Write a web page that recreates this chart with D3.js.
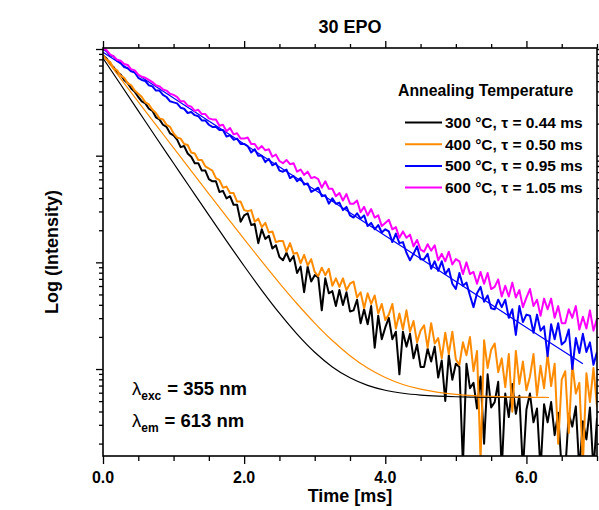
<!DOCTYPE html>
<html>
<head>
<meta charset="utf-8">
<script src="https://d3js.org/d3.v7.min.js"></script>
<style>
  body { margin: 0; background: #fff; }
  text { font-family: Arial, "Liberation Sans", sans-serif; font-weight: bold; fill: #000; }
  .tick line { stroke: #000; stroke-width: 1.3; }
</style>
</head>
<body>
<div id="chart"></div>
<script>
// recorded decays, log10 of normalised intensity, one value every 0.05 ms from 0 to 7 ms
var dt = 0.05;
var black300 = [-0.06,
  -0.09,-0.14,-0.17,-0.22,-0.24,-0.29,-0.32,-0.37,-0.40,-0.45,
  -0.49,-0.51,-0.56,-0.58,-0.64,-0.66,-0.71,-0.73,-0.79,-0.81,
  -0.85,-0.92,-0.91,-0.98,-1.01,-1.07,-1.07,-1.14,-1.14,-1.22,
  -1.24,-1.24,-1.34,-1.33,-1.40,-1.38,-1.46,-1.46,-1.62,-1.56,
  -1.54,-1.65,-1.64,-1.82,-1.69,-1.78,-1.75,-1.87,-1.84,-1.95,
  -1.98,-1.91,-1.99,-1.94,-2.10,-2.04,-2.28,-2.04,-2.18,-2.12,
  -2.14,-2.45,-2.15,-2.29,-2.27,-2.41,-2.26,-2.40,-2.28,-2.46,
  -2.45,-2.35,-2.57,-2.44,-2.58,-2.41,-2.80,-2.50,-2.72,-2.61,
  -2.52,-2.72,-2.65,-3.05,-2.65,-2.79,-2.67,-2.90,-2.77,-2.98,
  -2.98,-2.81,-2.93,-2.79,-3.08,-2.92,-3.30,-2.87,-3.10,-2.95,
  -2.98,-3.90,-2.95,-3.18,-3.13,-3.37,-3.07,-3.70,-3.05,-3.36,
  -3.31,-3.12,-3.95,-3.23,-3.45,-3.14,-3.42,-3.25,-3.95,-3.38,
  -3.23,-3.50,-3.37,-3.95,-3.33,-3.50,-3.31,-3.62,-3.41,-3.95,
  -3.95,-3.42,-3.54,-3.35,-3.95,-3.49,-3.66,-3.36,-3.95,-3.46
];
var orange400 = [-0.06,
  -0.10,-0.12,-0.18,-0.20,-0.25,-0.27,-0.32,-0.34,-0.39,-0.42,
  -0.45,-0.50,-0.52,-0.57,-0.60,-0.65,-0.66,-0.71,-0.73,-0.79,
  -0.83,-0.84,-0.89,-0.90,-0.97,-0.98,-1.04,-1.04,-1.10,-1.12,
  -1.14,-1.21,-1.23,-1.30,-1.29,-1.35,-1.35,-1.43,-1.43,-1.51,
  -1.52,-1.51,-1.62,-1.59,-1.67,-1.63,-1.72,-1.71,-1.81,-1.80,
  -1.80,-1.90,-1.82,-1.92,-1.91,-2.01,-1.93,-2.03,-1.97,-2.09,
  -2.13,-2.05,-2.12,-2.06,-2.22,-2.15,-2.23,-2.15,-2.26,-2.20,
  -2.18,-2.33,-2.28,-2.43,-2.29,-2.39,-2.31,-2.48,-2.39,-2.54,
  -2.49,-2.39,-2.62,-2.48,-2.63,-2.45,-2.65,-2.55,-2.75,-2.64,
  -2.59,-2.80,-2.57,-2.76,-2.71,-2.90,-2.66,-2.86,-2.65,-2.91,
  -2.96,-2.75,-2.87,-2.70,-3.02,-2.83,-3.85,-2.73,-2.99,-2.82,
  -2.76,-3.03,-2.90,-3.17,-2.86,-3.40,-2.83,-3.14,-2.93,-3.20,
  -3.07,-2.86,-3.25,-2.97,-3.18,-2.86,-3.16,-2.95,-3.70,-3.10,
  -3.02,-3.60,-2.95,-3.23,-3.13,-3.90,-3.04,-3.31,-2.99,-3.35
];
var blue500 = [0.00,
  -0.02,-0.06,-0.07,-0.11,-0.13,-0.17,-0.18,-0.21,-0.22,-0.27,
  -0.29,-0.30,-0.34,-0.35,-0.39,-0.39,-0.43,-0.45,-0.49,-0.50,
  -0.51,-0.55,-0.56,-0.60,-0.59,-0.62,-0.63,-0.67,-0.67,-0.71,
  -0.73,-0.73,-0.76,-0.76,-0.82,-0.81,-0.85,-0.84,-0.89,-0.89,
  -0.91,-0.97,-0.94,-1.00,-1.00,-1.06,-1.03,-1.09,-1.07,-1.14,
  -1.15,-1.13,-1.21,-1.19,-1.24,-1.21,-1.27,-1.26,-1.34,-1.32,
  -1.30,-1.38,-1.37,-1.45,-1.40,-1.45,-1.44,-1.51,-1.48,-1.56,
  -1.58,-1.54,-1.59,-1.56,-1.66,-1.63,-1.69,-1.65,-1.72,-1.69,
  -1.71,-1.81,-1.73,-1.82,-1.81,-1.91,-1.98,-1.92,-1.85,-1.97,
  -1.97,-1.92,-2.06,-1.99,-2.08,-1.99,-2.11,-2.06,-2.20,-2.25,
  -2.10,-2.22,-2.19,-2.31,-2.42,-2.29,-2.23,-2.37,-2.31,-2.43,
  -2.44,-2.35,-2.42,-2.35,-2.52,-2.44,-2.68,-2.41,-2.56,-2.49,
  -2.50,-2.66,-2.49,-2.64,-2.60,-2.88,-2.58,-2.72,-2.57,-2.77,
  -2.74,-2.63,-3.00,-2.71,-2.85,-2.67,-2.84,-2.75,-2.96,-2.84
];
var magenta600 = [0.00,
  -0.01,-0.05,-0.07,-0.10,-0.11,-0.14,-0.15,-0.19,-0.20,-0.24,
  -0.26,-0.27,-0.29,-0.31,-0.34,-0.35,-0.38,-0.39,-0.42,-0.43,
  -0.45,-0.49,-0.49,-0.53,-0.54,-0.58,-0.57,-0.61,-0.61,-0.65,
  -0.66,-0.66,-0.72,-0.71,-0.77,-0.74,-0.80,-0.79,-0.84,-0.84,
  -0.83,-0.89,-0.89,-0.94,-0.91,-0.95,-0.94,-1.01,-0.99,-1.05,
  -1.07,-1.04,-1.08,-1.07,-1.15,-1.13,-1.18,-1.15,-1.21,-1.20,
  -1.22,-1.30,-1.24,-1.31,-1.31,-1.38,-1.35,-1.42,-1.36,-1.45,
  -1.45,-1.42,-1.53,-1.48,-1.56,-1.50,-1.58,-1.56,-1.66,-1.63,
  -1.60,-1.69,-1.67,-1.77,-1.71,-1.77,-1.74,-1.85,-1.79,-1.88,
  -1.90,-1.83,-1.89,-1.84,-1.98,-1.92,-1.99,-1.90,-2.02,-1.97,
  -1.99,-2.11,-2.00,-2.11,-2.09,-2.20,-2.09,-2.20,-2.10,-2.25,
  -2.23,-2.16,-2.32,-2.22,-2.32,-2.19,-2.33,-2.26,-2.42,-2.33,
  -2.25,-2.41,-2.35,-2.50,-2.34,-2.44,-2.34,-2.52,-2.41,-2.57,
  -2.57,-2.44,-2.52,-2.41,-2.63,-2.51,-2.62,-2.45,-2.64,-2.53
];

// fitted curves (log10); the 600 °C fit is hidden under its data in the original
var fitTimeA = [0,0.25,0.5,0.75,1,1.25,1.5,1.75,2,2.25,2.5,2.75,3,3.25,3.5,3.75,4,4.25,4.5,4.75,5,5.25,5.5,5.75,6,6.25,6.32];
var fit300 = [-0.086,-0.333,-0.580,-0.827,-1.071,-1.315,-1.558,-1.798,-2.034,-2.262,-2.477,-2.673,-2.843,-2.980,-3.082,-3.153,-3.199,-3.227,-3.244,-3.254,-3.260,-3.263,-3.265,-3.266,-3.267,-3.267,-3.267];
var fit400 = [-0.060,-0.278,-0.495,-0.711,-0.927,-1.143,-1.358,-1.572,-1.783,-1.991,-2.194,-2.388,-2.569,-2.733,-2.875,-2.991,-3.080,-3.145,-3.189,-3.218,-3.237,-3.249,-3.256,-3.261,-3.264,-3.266,-3.267];
var fitTimeB = [0,1,2,3,4,5,6,6.8];
var fit500 = [-0.03,-0.46,-0.89,-1.32,-1.75,-2.18,-2.61,-2.95];

var legendLabels = ["300 \u00B0C, \u03C4 = 0.44 ms", "400 \u00B0C, \u03C4 = 0.50 ms",
                    "500 \u00B0C, \u03C4 = 0.95 ms", "600 \u00B0C, \u03C4 = 1.05 ms"];
var colors = ["#000000", "#ff8c00", "#0000ff", "#ff00ff"];
var xMajor = [0, 2, 4, 6];
var xMinor = [0.5, 1, 1.5, 2.5, 3, 3.5, 4.5, 5, 5.5, 6.5, 7];
var yMajor = [1e-3, 1e-2, 1e-1, 1];

var w = 599, h = 510;
var padL = 103, padR = 597, padT = 48, padB = 456;

var svg = d3.select("#chart").append("svg").attr("width", w).attr("height", h);

var x = d3.scaleLinear().domain([0, 7]).range([padL, padR]);
var y = d3.scaleLog().domain([1.53e-4, 1.022]).range([padB, padT]);
var yMinor = y.ticks().filter(v => yMajor.indexOf(v) < 0);

svg.append("clipPath").attr("id", "plot")
  .append("rect").attr("x", padL).attr("y", padT)
  .attr("width", padR - padL).attr("height", padB - padT);

var dataLine = d3.line()
  .x((d, i) => x(i * dt))
  .y(d => y(Math.pow(10, d)));

function fitLine(times) {
  return d3.line()
    .x((d, i) => x(times[i]))
    .y(d => y(Math.pow(10, d)))
    .curve(d3.curveMonotoneX);
}

var plot = svg.append("g").attr("clip-path", "url(#plot)");

function drawData(s, k) {
  plot.append("path").datum(s)
    .attr("d", dataLine)
    .attr("fill", "none")
    .attr("stroke", colors[k])
    .attr("stroke-width", 2)
    .attr("stroke-linejoin", "round");
}
function drawFit(times, s, k) {
  plot.append("path").datum(s)
    .attr("d", fitLine(times))
    .attr("fill", "none")
    .attr("stroke", colors[k])
    .attr("stroke-width", 1.2);
}

drawData(black300, 0);
drawData(orange400, 1);
drawData(blue500, 2);
drawFit(fitTimeA, fit300, 0);
drawFit(fitTimeA, fit400, 1);
drawFit(fitTimeB, fit500, 2);
drawData(magenta600, 3);

// ticks on all four sides, pointing outwards
function ticks(axis, tx, ty, values, size) {
  svg.append("g").attr("transform", "translate(" + tx + "," + ty + ")")
    .call(axis.tickValues(values).tickSize(size).tickFormat(""))
    .call(g => g.select(".domain").remove());
}
ticks(d3.axisBottom(x), 0, padB, xMajor, 8);
ticks(d3.axisBottom(x), 0, padB, xMinor, 5);
ticks(d3.axisTop(x), 0, padT, xMajor, 7);
ticks(d3.axisTop(x), 0, padT, xMinor, 4);
ticks(d3.axisLeft(y), padL, 0, yMajor, 7);
ticks(d3.axisLeft(y), padL, 0, yMinor, 4);
ticks(d3.axisRight(y), padR, 0, yMajor, 7);
ticks(d3.axisRight(y), padR, 0, yMinor, 4);

svg.append("rect")
  .attr("x", padL).attr("y", padT)
  .attr("width", padR - padL).attr("height", padB - padT)
  .attr("fill", "none").attr("stroke", "#000").attr("stroke-width", 1.6);

svg.selectAll(".xlab").data(xMajor).enter().append("text")
  .attr("class", "xlab")
  .attr("x", d => x(d)).attr("y", 483)
  .attr("text-anchor", "middle")
  .style("font-size", "16px")
  .text(d3.format(".1f"));

svg.append("text").attr("x", (padL + padR) / 2).attr("y", 33)
  .attr("text-anchor", "middle").style("font-size", "18px").text("30 EPO");

svg.append("text").attr("x", (padL + padR) / 2).attr("y", 502)
  .attr("text-anchor", "middle").style("font-size", "18px").text("Time [ms]");

svg.append("text")
  .attr("transform", "translate(58," + (padT + padB) / 2 + ") rotate(-90)")
  .attr("text-anchor", "middle").style("font-size", "18px").text("Log (Intensity)");

// legend
svg.append("text").attr("x", 398).attr("y", 96).style("font-size", "15.8px").text("Annealing Temperature");
var leg = svg.selectAll(".leg").data(legendLabels).enter().append("g")
  .attr("class", "leg")
  .attr("transform", (d, i) => "translate(0," + (128 + i * 21.7) + ")");
leg.append("line").attr("x1", 405).attr("x2", 442).attr("y1", -5.5).attr("y2", -5.5)
  .attr("stroke", (d, i) => colors[i]).attr("stroke-width", 2);
leg.append("text").attr("x", 445).attr("y", 0).style("font-size", "15.5px").text(d => d);

// excitation / emission wavelengths
var lambdas = [["exc", "= 355 nm", 395], ["em", "= 613 nm", 427]];
lambdas.forEach(l => {
  var t = svg.append("text").attr("x", 132).attr("y", l[2]).style("font-size", "18.5px");
  t.append("tspan").style("font-weight", "normal").text("\u03BB");
  t.append("tspan").attr("dy", 5).style("font-size", "12px").text(l[0]);
  t.append("tspan").attr("dy", -5).attr("dx", 6).text(l[1]);
});
</script>
</body>
</html>
